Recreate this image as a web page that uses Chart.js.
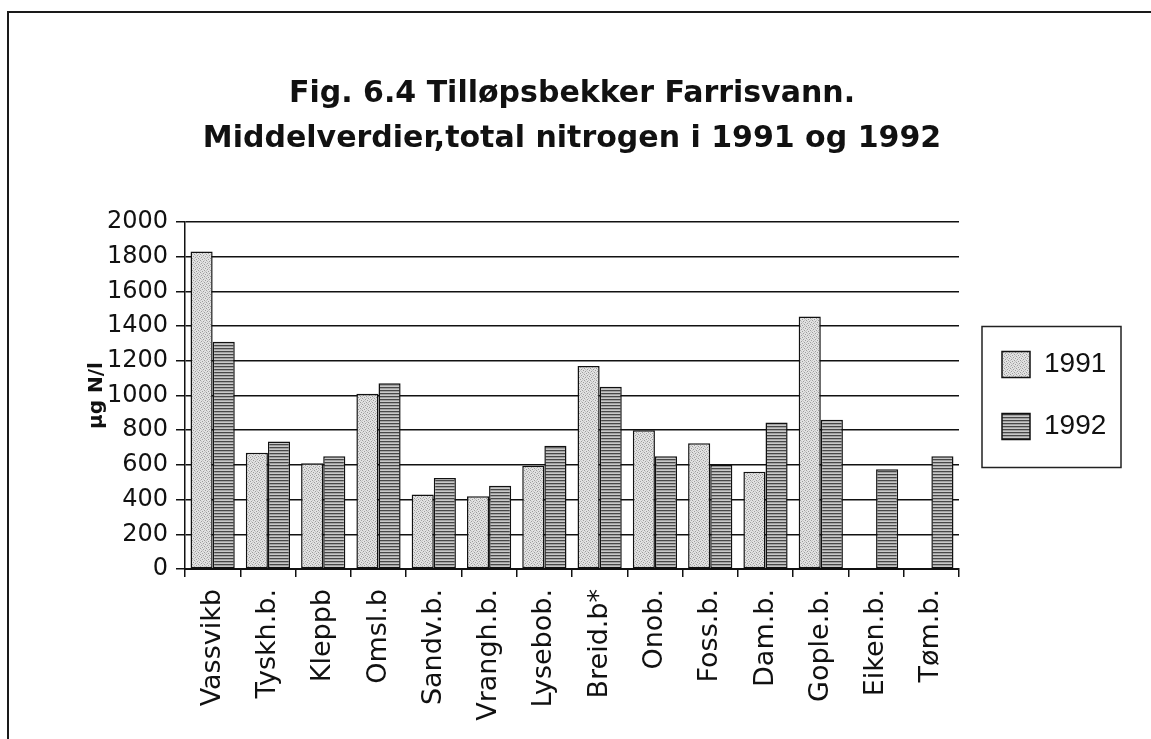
<!DOCTYPE html>
<html>
<head>
<meta charset="utf-8">
<script src="https://cdn.jsdelivr.net/npm/chart.js@4.4.1/dist/chart.umd.min.js"></script>
<style>
  html, body { margin: 0; padding: 0; background: #ffffff; }
  #wrap { width: 1151px; height: 739px; position: relative; }
</style>
</head>
<body>
<div id="wrap"><canvas id="c" width="1151" height="739"></canvas></div>
<script>
// ---- data ----
const categories = ['Vassvikb', 'Tyskh.b.', 'Kleppb', 'Omsl.b', 'Sandv.b.', 'Vrangh.b.', 'Lysebob.', 'Breid.b*', 'Onob.', 'Foss.b.', 'Dam.b.', 'Gople.b.', 'Eiken.b.', 'Tøm.b.'];
const values1991 = [1830, 670, 610, 1010, 430, 420, 595, 1170, 800, 725, 560, 1455, null, null];
const values1992 = [1310, 735, 650, 1070, 525, 480, 710, 1050, 650, 600, 845, 860, 575, 650];
const seriesNames = ['1991', '1992'];
const yTicks = [0, 200, 400, 600, 800, 1000, 1200, 1400, 1600, 1800, 2000];
const titleLines = ['Fig. 6.4 Tilløpsbekker Farrisvann.', 'Middelverdier,total nitrogen i 1991 og 1992'];
const yAxisTitle = 'µg N/l';

// ---- fill patterns (scanned look) ----
function stipplePattern() {
  const c = document.createElement('canvas');
  c.width = 6; c.height = 6;
  const g = c.getContext('2d');
  g.fillStyle = '#e2e2e2'; g.fillRect(0, 0, 6, 6);
  g.fillStyle = '#9c9c9c';
  [[0,0],[4,1],[2,2],[5,3],[1,4],[3,5]].forEach(p => g.fillRect(p[0], p[1], 1, 1));
  g.fillStyle = '#c4c4c4';
  [[2,0],[0,2],[4,4],[3,3],[1,1],[5,5]].forEach(p => g.fillRect(p[0], p[1], 1, 1));
  return g.createPattern(c, 'repeat');
}
function stripePattern() {
  const c = document.createElement('canvas');
  c.width = 4; c.height = 3;
  const g = c.getContext('2d');
  g.fillStyle = '#474747'; g.fillRect(0, 0, 4, 1);
  g.fillStyle = '#a2a2a2'; g.fillRect(0, 1, 4, 1);
  g.fillStyle = '#c8c8c8'; g.fillRect(0, 2, 4, 1);
  return g.createPattern(c, 'repeat');
}

const LEGEND_PAD = 34;

const framePlugin = {
  id: 'frame',
  beforeDraw(chart) {
    const lg = chart.legend;
    if (lg) { lg.left = chart.chartArea.right + 9; }
  },
  afterDraw(chart) {
    const ctx = chart.ctx;
    ctx.save();
    ctx.strokeStyle = '#1a1a1a';
    ctx.lineWidth = 2;
    ctx.beginPath();
    ctx.moveTo(8, 739);
    ctx.lineTo(8, 12);
    ctx.lineTo(1151, 12);
    ctx.stroke();
    const lg = chart.legend;
    if (lg && lg.legendHitBoxes && lg.legendHitBoxes.length) {
      const itemX = lg.left + LEGEND_PAD;
      const rowTop = lg.legendHitBoxes[0].top;
      ctx.lineWidth = 1.5;
      ctx.strokeStyle = '#222';
      ctx.strokeRect(itemX - 20, rowTop - 24, 139, 141);
    }
    ctx.restore();
  }
};

const ctx = document.getElementById('c').getContext('2d');
const chart = new Chart(ctx, {
  type: 'bar',
  data: {
    labels: categories,
    datasets: [
      { label: seriesNames[0], data: values1991, backgroundColor: stipplePattern(), borderColor: '#111', borderWidth: 1.5, borderSkipped: false, categoryPercentage: 0.8, barPercentage: 1.0 },
      { label: seriesNames[1], data: values1992, backgroundColor: stripePattern(), borderColor: '#111', borderWidth: 1.5, borderSkipped: false, categoryPercentage: 0.8, barPercentage: 1.0 }
    ]
  },
  options: {
    responsive: false,
    animation: false,
    devicePixelRatio: 1,
    layout: { padding: { left: 65, top: 0, right: 60, bottom: 0 } },
    plugins: {
      title: {
        display: true,
        text: titleLines,
        fullSize: false,
        color: '#111',
        font: { family: 'DejaVu Sans', size: 30, weight: 'bold', lineHeight: 1.5 },
        padding: { top: 72, bottom: 60 }
      },
      legend: {
        display: true,
        position: 'right',
        fullSize: false,
        align: 'center',
        labels: {
          color: '#111',
          font: { family: 'Liberation Sans', size: 28 },
          boxWidth: 28,
          boxHeight: 26,
          padding: LEGEND_PAD
        }
      },
      tooltip: { enabled: false }
    },
    scales: {
      x: {
        afterFit(scale) { scale.height = 170; },
        grid: { display: true, drawOnChartArea: false, drawTicks: true, tickLength: 8, color: '#111', lineWidth: 1.5, offset: true },
        border: { display: true, color: '#111', width: 2 },
        ticks: {
          color: '#111',
          font: { family: 'DejaVu Sans', size: 27 },
          minRotation: 90, maxRotation: 90,
          padding: 12,
          autoSkip: false
        }
      },
      y: {
        min: 0,
        max: 2000,
        afterFit(scale) { scale.width = 120; },
        afterBuildTicks(scale) { scale.ticks = yTicks.map(v => ({ value: v })); },
        grid: { display: true, drawOnChartArea: true, drawTicks: true, tickLength: 9, color: '#111', lineWidth: 1.5 },
        border: { display: true, color: '#111', width: 1.5 },
        ticks: {
          color: '#111',
          font: { family: 'DejaVu Sans', size: 24 },
          padding: 8,
          callback: (v) => String(v)
        },
        title: {
          display: true,
          text: yAxisTitle,
          color: '#111',
          font: { family: 'DejaVu Sans', size: 20, weight: 'bold' },
          padding: { top: 20, bottom: 0 }
        }
      }
    }
  },
  plugins: [framePlugin]
});

// keep the plot area's right edge where the reference has it
for (let i = 0; i < 3; i++) {
  const diff = chart.chartArea.right - 959;
  if (Math.abs(diff) < 0.5) break;
  chart.options.layout.padding.right += diff;
  chart.update('none');
}
</script>
</body>
</html>
